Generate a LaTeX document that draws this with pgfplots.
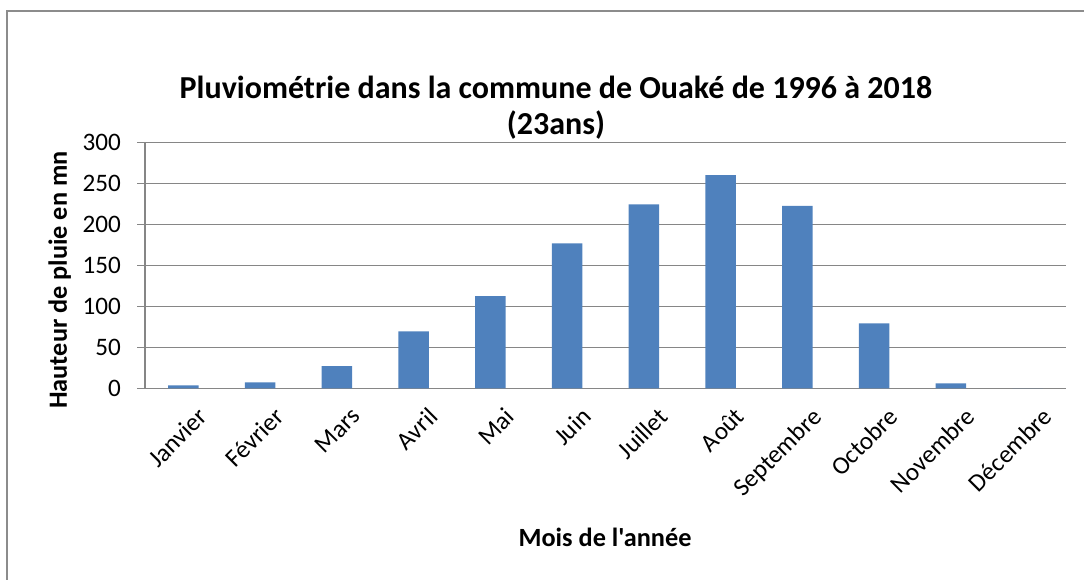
\documentclass[border=0pt]{standalone}
\usepackage{pgfplots}
\pgfplotsset{compat=1.18}
\usepackage{fontspec}
\setmainfont{Carlito}[Ligatures=TeXOff]
\definecolor{barblue}{HTML}{4F81BD}
\definecolor{gridgray}{HTML}{868686}
\definecolor{framegray}{HTML}{8C8C8C}

% 1 px of the reference = 0.4375pt
\begin{document}
\begin{tikzpicture}
\useasboundingbox (0,0) rectangle (474.25pt,253.75pt);
% chart frame (cut off on the right and at the bottom)
\draw[framegray, line width=0.9pt] (3.06pt,0) -- (3.06pt,248.94pt) -- (474.25pt,248.94pt);

\begin{axis}[
    at={(63.44pt,83.87pt)}, anchor=south west,
    scale only axis,
    width=402.94pt, height=107.45pt,
    ybar, bar width=0.4,
    xmin=-0.5, xmax=11.5,
    ymin=0, ymax=300,
    ytick={0,50,...,300},
    xtick={0,...,11},
    xticklabels={Janvier,Février,Mars,Avril,Mai,Juin,Juillet,Août,Septembre,Octobre,Novembre,Décembre},
    axis x line*=bottom, axis y line*=left,
    axis line style={-, draw=gridgray, line width=0.66pt},
    ymajorgrids=true,
    grid style={gridgray, line width=0.66pt},
    xtick style={draw=none},
    ytick style={draw=gridgray, line width=0.66pt},
    tick align=outside,
    major tick length=3.5pt,
    /pgf/number format/assume math mode=true,
    ticklabel style={font=\fontsize{11}{13}\selectfont},
    yticklabel style={xshift=-3.5pt},
    xticklabel style={rotate=45, anchor=north east, inner sep=0pt, yshift=-7pt, xshift=1.2pt},
]
\addplot[fill=barblue, draw=none] coordinates {
(0,3.7) (1,7.3) (2,27.2) (3,69.6) (4,112.7) (5,177.1)
(6,224.7) (7,260.5) (8,222.7) (9,79.4) (10,6.1) (11,0)
};
\end{axis}

\node[font=\fontsize{14}{15.75}\selectfont\bfseries, align=center] at (243.25pt,206.5pt)
    {Pluviométrie dans la commune de Ouaké de 1996 à 2018\\(23ans)};
\node[font=\fontsize{11.5}{13}\selectfont\bfseries, anchor=base] at (264.7pt,14.44pt) {Mois de l'année};
\node[font=\fontsize{11.5}{13}\selectfont\bfseries, rotate=90, anchor=base] at (29.3pt,131.25pt) {Hauteur de pluie en mn};
\end{tikzpicture}
\end{document}
